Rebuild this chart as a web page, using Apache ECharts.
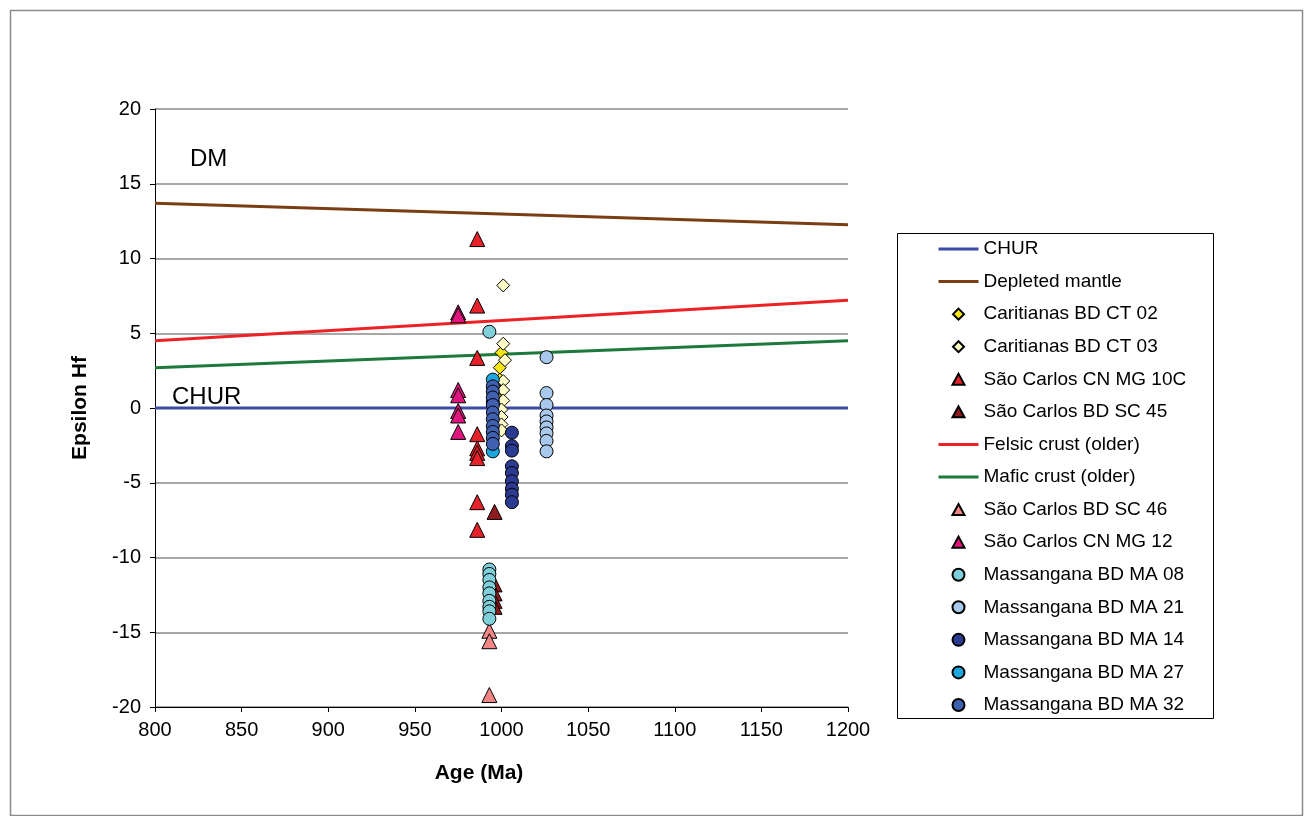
<!DOCTYPE html>
<html><head><meta charset="utf-8">
<script src="https://cdn.jsdelivr.net/npm/echarts@6/dist/echarts.min.js"></script>
<style>html,body{margin:0;padding:0;background:#fff}#c{width:1309px;height:816px}</style>
</head><body><div id="c"></div>
<script>
// Reference lines (age in Ma, epsilon Hf)
const lineAges = [800, 1200];
const churVals = [0, 0];
const dmVals = [13.7, 12.25];
const felsicVals = [4.5, 7.2];
const maficVals = [2.7, 4.5];

// Samples
const ct02Ages = [1000, 999, 999, 998, 998, 998, 999];
const ct02Vals = [3.7, 2.7, 1.9, 1.2, 0.6, -0.2, -0.7];
const ct03Ages = [1001, 1001, 1002, 1001, 1001, 1001, 1000, 1000, 1000, 1000];
const ct03Vals = [8.2, 4.3, 3.2, 1.8, 1.2, 0.5, -0.1, -0.6, -1.1, -1.5];
const mg10cAges = [986, 986, 986, 986, 986, 986, 986, 986, 986];
const mg10cVals = [11.3, 6.85, 3.35, -1.75, -2.7, -3.0, -3.35, -6.3, -8.15];
const sc45Ages = [996, 996, 996, 996, 996];
const sc45Vals = [-6.95, -11.8, -12.4, -12.9, -13.3];
const sc46Ages = [993, 993, 993];
const sc46Vals = [-14.9, -15.6, -19.2];
const mg12Ages = [975, 975, 975, 975, 975, 975, 975];
const mg12Vals = [6.4, 6.2, 1.2, 0.85, -0.2, -0.5, -1.6];
const ma08Ages = [993, 993, 993, 993, 993, 993, 993, 993, 993, 993];
const ma08Vals = [5.1, -10.8, -11.1, -11.5, -12.0, -12.4, -12.9, -13.3, -13.6, -14.1];
const ma21Ages = [1026, 1026, 1026, 1026, 1026, 1026, 1026, 1026, 1026];
const ma21Vals = [3.4, 1.0, 0.2, -0.5, -0.9, -1.3, -1.7, -2.2, -2.9];
const ma14Ages = [1006, 1006, 1006, 1006, 1006, 1006, 1006, 1006, 1006];
const ma14Vals = [-1.65, -2.55, -2.85, -3.9, -4.35, -4.9, -5.4, -5.8, -6.3];
const ma27Ages = [995, 995, 995];
const ma27Vals = [1.9, 0.4, -2.9];
const ma32Ages = [995, 995, 995, 995, 995, 995, 995, 995, 995, 995];
const ma32Vals = [1.45, 1.1, 0.7, 0.2, -0.3, -0.75, -1.2, -1.6, -2.0, -2.4];

const xTicks = {min: 800, max: 1200, interval: 50};
const yTicks = {min: -20, max: 20, interval: 5};

const zip = (a, b) => a.map((x, i) => [x, b[i]]);
const FONT = '"Liberation Sans", Arial, sans-serif';

// Legend icons padded to the 40x12 legend box so markers keep their shape
const legendIcons = {
  triangle: 'path://M0,0 M40,12 M14,11.5 L20,0.5 L26,11.5 Z',
  diamond: 'path://M0,0 M40,12 M20,0.5 L25.5,6 L20,11.5 L14.5,6 Z',
  circle: 'circle'
};

function lineSeries(name, vals, color) {
  return {name, type: 'line', data: zip(lineAges, vals), symbol: 'none',
    lineStyle: {color, width: 3}, itemStyle: {color}, silent: true, z: 2,
    _legend: {name, itemStyle: {opacity: 0}, lineStyle: {width: 3, color}}};
}
function scatterSeries(name, ages, vals, color, symbol, size) {
  return {name, type: 'scatter', data: zip(ages, vals), symbol, symbolSize: size,
    itemStyle: {color, borderColor: '#000', borderWidth: 1, opacity: 1}, z: 3,
    _legend: {name, icon: legendIcons[symbol]}};
}

const series = [
  lineSeries('CHUR', churVals, '#3a4aa6'),
  lineSeries('Depleted mantle', dmVals, '#7a3d14'),
  scatterSeries('Caritianas BD CT 02', ct02Ages, ct02Vals, '#f3e614', 'diamond', 13),
  scatterSeries('Caritianas BD CT 03', ct03Ages, ct03Vals, '#fdfbc6', 'diamond', 13),
  scatterSeries('São Carlos CN MG 10C', mg10cAges, mg10cVals, '#e5222b', 'triangle', 15),
  scatterSeries('São Carlos BD SC 45', sc45Ages, sc45Vals, '#8e1b1d', 'triangle', 15),
  lineSeries('Felsic crust (older)', felsicVals, '#ec2227'),
  lineSeries('Mafic crust (older)', maficVals, '#1d7a3b'),
  scatterSeries('São Carlos BD SC 46', sc46Ages, sc46Vals, '#f08585', 'triangle', 15),
  scatterSeries('São Carlos CN MG 12', mg12Ages, mg12Vals, '#e0167e', 'triangle', 15),
  scatterSeries('Massangana BD MA 08', ma08Ages, ma08Vals, '#7fd0db', 'circle', 13),
  scatterSeries('Massangana BD MA 21', ma21Ages, ma21Vals, '#a8c9eb', 'circle', 13),
  scatterSeries('Massangana BD MA 14', ma14Ages, ma14Vals, '#2c3b92', 'circle', 13),
  scatterSeries('Massangana BD MA 27', ma27Ages, ma27Vals, '#1ea7df', 'circle', 13),
  scatterSeries('Massangana BD MA 32', ma32Ages, ma32Vals, '#4060b2', 'circle', 13)
];
const legendData = series.map(s => s._legend);
series.forEach(s => delete s._legend);

const chart = echarts.init(document.getElementById('c'), null, {renderer: 'canvas'});
chart.setOption({
  animation: false,
  backgroundColor: '#fff',
  textStyle: {fontFamily: FONT},
  grid: {left: 155, top: 109, width: 693, height: 598, containLabel: false},
  xAxis: {type: 'value', min: xTicks.min, max: xTicks.max, interval: xTicks.interval,
    axisLine: {onZero: false, lineStyle: {color: '#000', width: 1}},
    axisTick: {show: true, inside: false, length: 5, lineStyle: {color: '#000'}},
    axisLabel: {fontFamily: FONT, fontSize: 20, color: '#000', margin: 13, formatter: v => String(v)},
    splitLine: {show: false}},
  yAxis: {type: 'value', min: yTicks.min, max: yTicks.max, interval: yTicks.interval,
    name: 'Epsilon Hf', nameLocation: 'middle', nameGap: 64, nameRotate: 90,
    nameTextStyle: {fontFamily: FONT, fontSize: 21, fontWeight: 'bold', color: '#000'},
    axisLine: {onZero: false, lineStyle: {color: '#000', width: 1}},
    axisTick: {show: true, inside: false, length: 5, lineStyle: {color: '#000'}},
    axisLabel: {fontFamily: FONT, fontSize: 20, color: '#000', margin: 14, formatter: v => String(v)},
    splitLine: {show: true, lineStyle: {color: '#8a8a8a', width: 1.5}}},
  legend: {orient: 'vertical', left: 937, top: 239, padding: 0, itemWidth: 40, itemHeight: 12,
    itemGap: 12.57, selectedMode: false,
    textStyle: {fontFamily: FONT, fontSize: 19, color: '#000', lineHeight: 20},
    data: legendData},
  graphic: [
    {type: 'rect', left: 8, top: 8, shape: {width: 1292, height: 805},
      style: {fill: 'none', stroke: '#8c8c8c', lineWidth: 1.5}, silent: true, z: -10},
    {type: 'rect', left: 897, top: 233, shape: {width: 316, height: 485},
      style: {fill: '#fff', stroke: '#000', lineWidth: 1}, silent: true, z: -5},
    {type: 'text', left: 172, top: 385, style: {text: 'CHUR', font: '24px ' + FONT, fill: '#000'}, z: 10},
    {type: 'text', left: 190, top: 147, style: {text: 'DM', font: '24px ' + FONT, fill: '#000'}, z: 10},
    {type: 'text', x: 479, y: 773, style: {text: 'Age (Ma)', font: 'bold 21px ' + FONT, fill: '#000',
      textAlign: 'center', textVerticalAlign: 'middle'}, z: 10}
  ],
  series
});
</script></body></html>
